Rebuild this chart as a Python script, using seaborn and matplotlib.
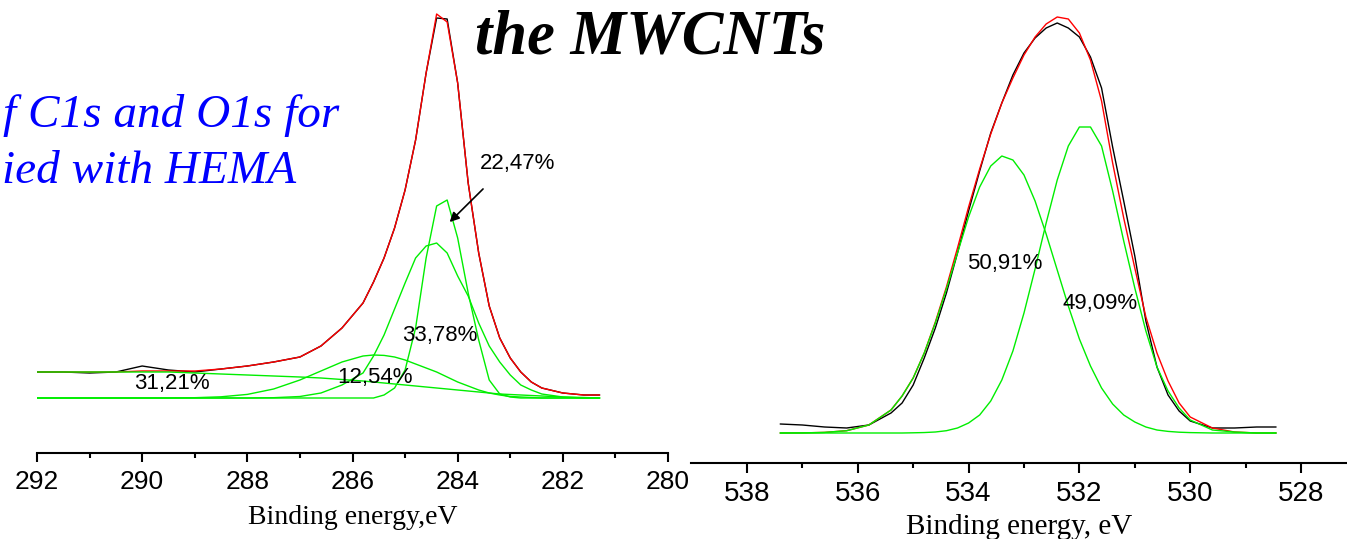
import matplotlib
matplotlib.use("Agg")
import matplotlib.pyplot as plt
import seaborn as sns

# ---------------- data: C1s (left panel) ----------------
c1s_energy = [292.0, 291.5, 291.0, 290.5, 290.0, 289.5, 289.0, 288.5, 288.0, 287.5,
              287.0, 286.6, 286.2, 285.8, 285.6, 285.4, 285.2, 285.0, 284.8, 284.6,
              284.4, 284.2, 284.0, 283.8, 283.6, 283.4, 283.2, 283.0, 282.8, 282.6,
              282.4, 282.0, 281.6, 281.3]
c1s_measured = [26, 26, 25, 26, 32, 28, 26, 29, 32, 36,
                41, 52, 70, 95, 116, 140, 170, 208, 258, 325,
                380, 379, 315, 215, 145, 92, 60, 40, 26, 16,
                10, 5, 3, 3]
c1s_envelope = [26, 26, 26, 26, 27, 27, 27, 29, 32, 36,
                41, 52, 70, 95, 116, 140, 170, 208, 258, 325,
                384, 376, 315, 215, 145, 92, 60, 40, 26, 16,
                10, 5, 3, 3]
c1s_peak_3121 = [26, 26, 26, 26, 26, 26, 25, 24, 23, 22,
                 21, 20, 18.5, 17, 16, 15, 14, 13, 12, 11,
                 10, 9, 8, 7, 6, 5, 4, 3.5, 3, 2.5,
                 2, 1, 0.5, 0]
c1s_peak_1254 = [0, 0, 0, 0, 0, 0, 0.3, 1.2, 3.6, 9,
                 18, 27, 36, 42, 43, 42.6, 41, 38, 34, 30,
                 26, 21, 16, 12, 8, 5, 3, 1.5, 1, 0.5,
                 0, 0, 0, 0]
c1s_peak_3378 = [0, 0, 0, 0, 0, 0, 0, 0, 0, 0.3,
                 1.5, 5, 13, 25, 42, 63, 89, 115, 140, 152,
                 155, 145, 122, 102, 75, 52, 36, 23, 13, 8,
                 4, 1, 0, 0]
c1s_peak_2247 = [0, 0, 0, 0, 0, 0, 0, 0, 0, 0,
                 0, 0, 0, 0, 0, 3, 10, 28, 70, 140,
                 192, 198, 160, 105, 58, 18, 4, 1, 0, 0,
                 0, 0, 0, 0]
c1s_labels = ["31,21%", "12,54%", "33,78%", "22,47%"]
c1s_label_pos = [(289.43, 15), (285.57, 20), (284.34, 62), (282.87, 235)]

# ---------------- data: O1s (right panel) ----------------
o1s_energy = [537.4, 537.0, 536.6, 536.2, 535.8, 535.4, 535.2, 535.0, 534.8, 534.6,
              534.4, 534.2, 534.0, 533.8, 533.6, 533.4, 533.2, 533.0, 532.8, 532.6,
              532.4, 532.2, 532.0, 531.8, 531.6, 531.4, 531.2, 531.0, 530.8, 530.6,
              530.4, 530.2, 530.0, 529.6, 529.2, 528.8, 528.45]
o1s_measured = [9, 8, 6, 5, 8, 20, 30, 48, 75, 105,
                140, 180, 222, 262, 300, 330, 358, 380, 395, 405,
                410, 405, 396, 376, 345, 286, 232, 177, 112, 66,
                38, 22, 12, 5, 5, 6, 6]
o1s_envelope = [0, 0.1, 0.6, 2.3, 8, 23, 37, 55, 80, 111,
                146, 185, 226, 264, 299, 330, 355, 378, 396, 409,
                416, 414, 400, 373, 332, 270, 215, 165, 116, 80,
                52, 30, 16, 5, 1, 0, 0]
o1s_peak_5091 = [0, 0.1, 0.6, 2.3, 8, 23, 37, 55, 80, 110,
                 144, 180, 216, 246, 267, 277, 273, 258, 232, 199,
                 163, 127, 94, 67, 45, 29, 18, 11, 6, 3,
                 1.6, 0.8, 0.4, 0, 0, 0, 0]
o1s_peak_4909 = [0, 0, 0, 0, 0, 0, 0, 0.2, 0.45, 1,
                 2.3, 5, 10, 18, 32, 53, 82, 120, 164, 210,
                 253, 287, 306, 306, 287, 242, 192, 145, 102, 66,
                 42, 25, 13, 3, 1, 0, 0]
o1s_labels = ["50,91%", "49,09%"]
o1s_label_pos = [(533.34, 170), (531.63, 130)]

c1s_ticks = [292, 290, 288, 286, 284, 282, 280]
c1s_minor = [291, 289, 287, 285, 283, 281]
o1s_ticks = [538, 536, 534, 532, 530, 528]
o1s_minor = [537, 535, 533, 531, 529]
xlabel_left = "Binding energy,eV"
xlabel_right = "Binding energy, eV"
title_text = "the MWCNTs"
blue_line1 = "f C1s and O1s for"
blue_line2 = "ied with HEMA"

# ---------------- styling ----------------
sns.set_theme(style="white")
plt.rcParams['font.family'] = ['Liberation Sans', 'DejaVu Sans']
plt.rcParams['text.color'] = 'black'
plt.rcParams['xtick.color'] = 'black'
plt.rcParams['axes.labelcolor'] = 'black'

GREEN = "#00ee00"
RED = "#ff0000"
BLACK = "#000000"
LW = 1.0

W, H = 1347, 539
fig = plt.figure(figsize=(W / 100, H / 100), dpi=100)
ax1 = fig.add_axes([37 / W, 86 / H, 631 / W, 453 / H])
ax2 = fig.add_axes([691 / W, 76 / H, 656 / W, 463 / H])


def draw(ax, x, measured, envelope, comps):
    sns.lineplot(x=x, y=measured, ax=ax, color=BLACK, lw=LW)
    sns.lineplot(x=x, y=envelope, ax=ax, color=RED, lw=LW)
    for c in comps:
        sns.lineplot(x=x, y=c, ax=ax, color=GREEN, lw=LW)


draw(ax1, c1s_energy, c1s_measured, c1s_envelope,
     [c1s_peak_3121, c1s_peak_1254, c1s_peak_3378, c1s_peak_2247])
draw(ax2, o1s_energy, o1s_measured, o1s_envelope,
     [o1s_peak_5091, o1s_peak_4909])

for ax, ticks, minor, pad, fs, ln in [(ax1, c1s_ticks, c1s_minor, 5.5, 19, 6.8),
                                      (ax2, o1s_ticks, o1s_minor, 6.0, 20, 7.2)]:
    for s in ["left", "right", "top"]:
        ax.spines[s].set_visible(False)
    ax.spines["bottom"].set_color("black")
    ax.spines["bottom"].set_linewidth(1.5)
    ax.set_yticks([])
    ax.set_ylabel("")
    ax.set_xticks(ticks)
    ax.set_xticks(minor, minor=True)
    ax.tick_params(axis="x", which="major", direction="out", length=ln, width=1.5,
                   color="black", labelsize=fs, labelcolor="black", pad=pad, bottom=True)
    ax.tick_params(axis="x", which="minor", direction="out", length=3.5, width=1.5,
                   color="black", bottom=True)
    ax.set_facecolor("none")

ax1.set_xlim(292, 280)
ax1.set_ylim(-55, 398)
ax2.set_xlim(539.01, 527.17)
ax2.set_ylim(-30, 433)

ax1.set_xlabel(xlabel_left, fontsize=20, family="Liberation Serif", labelpad=8, color="black")
ax2.set_xlabel(xlabel_right, fontsize=21, family="Liberation Serif", labelpad=5, color="black")

for txt, (ex, ey) in zip(c1s_labels, c1s_label_pos):
    ax1.text(ex, ey, txt, ha="center", va="center", fontsize=16, color="black")
for txt, (ex, ey) in zip(o1s_labels, o1s_label_pos):
    ax2.text(ex, ey, txt, ha="center", va="center", fontsize=16, color="black")

ax1.annotate("", xy=(284.19, 174), xytext=(283.48, 211),
             arrowprops=dict(arrowstyle="-|>", color="black", lw=1.2,
                             mutation_scale=14))

fig.text(475 / W, 1 - 53 / H, title_text, fontsize=45, fontweight="bold",
         style="italic", family="Liberation Serif", ha="left", va="baseline",
         color="black")
fig.text(3 / W, 1 - 127 / H, blue_line1, fontsize=34, style="italic",
         family="Liberation Serif", ha="left", va="baseline", color="#0000ff")
fig.text(2 / W, 1 - 183 / H, blue_line2, fontsize=34, style="italic",
         family="Liberation Serif", ha="left", va="baseline", color="#0000ff")

fig.savefig("out.png", dpi=100)
